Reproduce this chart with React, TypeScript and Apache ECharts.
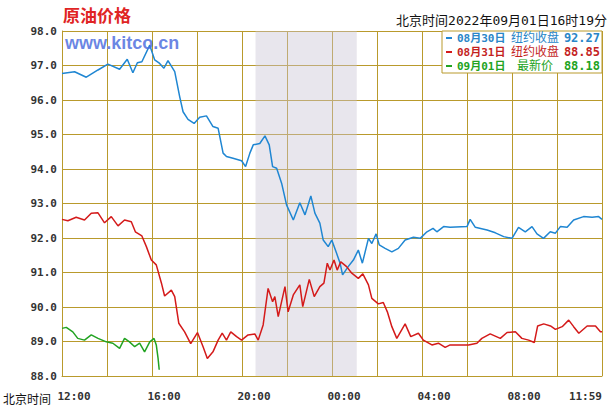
import React, { useEffect, useRef } from "react";
import * as echarts from "echarts";

// ---- data (hours after 12:00 Beijing time, price) ----
const blueHours = [0, 0.56, 1.08, 1.6, 2.04, 2.56, 2.9, 3.15, 3.35, 3.55, 3.9, 4.12, 4.34, 4.53, 4.71, 5.01, 5.23, 5.38, 5.6, 5.87, 6.12, 6.42, 6.71, 6.94, 7.16, 7.31, 7.6, 7.98, 8.16, 8.35, 8.5, 8.79, 9.02, 9.21, 9.36, 9.54, 9.76, 9.98, 10.28, 10.57, 10.8, 11.06, 11.24, 11.46, 11.61, 11.83, 11.99, 12.18, 12.36, 12.47, 12.72, 12.95, 13.17, 13.35, 13.62, 13.77, 13.96, 14.1, 14.36, 14.66, 14.95, 15.25, 15.62, 15.92, 16.22, 16.49, 16.66, 16.96, 17.25, 18.0, 18.14, 18.37, 18.89, 19.26, 19.63, 20.0, 20.29, 20.59, 20.89, 21.11, 21.4, 21.7, 21.93, 22.15, 22.45, 22.74, 23.18, 23.56, 23.85, 24];
const blueValues = [96.77, 96.82, 96.66, 96.87, 97.04, 96.89, 97.18, 96.79, 97.08, 97.11, 97.59, 97.16, 97.06, 96.92, 97.14, 96.82, 96.1, 95.66, 95.44, 95.32, 95.5, 95.54, 95.23, 95.18, 94.46, 94.36, 94.31, 94.24, 94.07, 94.46, 94.7, 94.74, 94.96, 94.7, 94.07, 94.02, 93.59, 92.96, 92.52, 93.02, 92.67, 93.22, 92.72, 92.43, 91.94, 91.75, 91.94, 91.6, 91.27, 90.93, 91.17, 91.36, 91.65, 91.27, 91.99, 91.84, 92.12, 91.8, 91.7, 91.6, 91.7, 91.94, 92.02, 91.99, 92.18, 92.28, 92.18, 92.33, 92.31, 92.33, 92.54, 92.31, 92.23, 92.15, 92.04, 91.99, 92.31, 92.18, 92.33, 92.12, 91.99, 92.18, 92.14, 92.33, 92.31, 92.52, 92.62, 92.6, 92.62, 92.54];

const redHours = [0, 0.26, 0.63, 1.0, 1.3, 1.6, 1.89, 2.19, 2.49, 2.78, 3.08, 3.26, 3.55, 3.75, 3.97, 4.19, 4.42, 4.56, 4.86, 5.01, 5.19, 5.45, 5.72, 6.02, 6.27, 6.46, 6.71, 6.94, 7.12, 7.31, 7.5, 7.76, 7.98, 8.27, 8.57, 8.72, 8.94, 9.16, 9.36, 9.46, 9.61, 9.91, 10.05, 10.28, 10.57, 10.7, 10.99, 11.21, 11.46, 11.64, 11.79, 11.91, 12.09, 12.23, 12.39, 12.65, 12.88, 13.17, 13.37, 13.62, 13.77, 14.06, 14.28, 14.46, 14.66, 14.88, 15.25, 15.5, 15.84, 16.06, 16.44, 16.73, 17.03, 17.25, 18.07, 18.44, 18.66, 19.03, 19.48, 19.78, 20.15, 20.44, 20.74, 20.99, 21.14, 21.41, 21.71, 21.93, 22.23, 22.52, 22.74, 22.97, 23.34, 23.71, 23.93, 24];
const redValues = [92.54, 92.5, 92.6, 92.52, 92.72, 92.73, 92.44, 92.62, 92.35, 92.52, 92.47, 92.18, 92.06, 91.75, 91.36, 91.22, 90.69, 90.32, 90.49, 90.3, 89.53, 89.28, 88.94, 89.26, 88.85, 88.51, 88.7, 89.04, 89.24, 89.04, 89.28, 89.14, 89.04, 89.19, 89.22, 89.04, 89.48, 90.54, 90.15, 90.3, 89.72, 90.59, 89.86, 90.35, 90.64, 90.01, 90.8, 90.3, 90.59, 90.69, 91.27, 91.07, 91.36, 91.07, 91.31, 91.17, 90.98, 90.83, 90.96, 90.64, 90.25, 90.09, 90.13, 89.86, 89.43, 89.09, 89.51, 89.14, 89.24, 89.04, 88.9, 88.95, 88.83, 88.9, 88.9, 88.95, 89.09, 89.22, 89.09, 89.26, 89.28, 89.09, 89.04, 88.97, 89.45, 89.51, 89.45, 89.35, 89.43, 89.62, 89.43, 89.24, 89.45, 89.45, 89.28, 89.28];

const greenHours = [0, 0.19, 0.48, 0.7, 1.0, 1.3, 1.6, 1.97, 2.26, 2.56, 2.78, 3.0, 3.23, 3.45, 3.67, 3.9, 4.09, 4.19, 4.27, 4.32];
const greenValues = [89.38, 89.41, 89.28, 89.09, 89.04, 89.19, 89.09, 88.99, 88.95, 88.8, 89.09, 88.99, 88.85, 88.95, 88.7, 88.99, 89.09, 88.9, 88.51, 88.18];

const seriesDates = ["08月30日", "08月31日", "09月01日"];
const seriesLabels = ["纽约收盘", "纽约收盘", "最新价"];
const seriesLastValues = ["92.27", "88.85", "88.18"];
const seriesColors = ["#1f86d2", "#d41a1a", "#22a322"];
const legendTextColors = ["#2a86c8", "#c41f1f", "#22a322"];

const xTickLabels: Record<number, string> = { 0: "12:00", 4: "16:00", 8: "20:00", 12: "00:00", 16: "04:00", 20: "08:00", 24: "11:59" };
const shadeStart = 8.6;
const shadeEnd = 13.1;

const titleText = "原油价格";
const timeStamp = "北京时间2022年09月01日16时19分";
const watermark = "www.kitco.cn";
const xAxisCaption = "北京时间";

const zip = (xs: number[], ys: number[]) => xs.map((x, i) => [x, ys[i]]);

const GOLD = "#b99a2c";
const MONO = "DejaVu Sans Mono, Noto Sans CJK SC, monospace";

export default function App() {
  const ref = useRef<HTMLDivElement>(null);
  useEffect(() => {
    document.body.style.margin = "0";
    const chart = echarts.init(ref.current!, undefined, { renderer: "svg" });
    const data = [zip(blueHours, blueValues), zip(redHours, redValues), zip(greenHours, greenValues)];
    chart.setOption({
      animation: false,
      backgroundColor: "#ffffff",
      grid: { left: 62, right: 11, top: 31, bottom: 34, containLabel: false },
      xAxis: {
        type: "value",
        min: 0,
        max: 24,
        interval: 2,
        axisLine: { lineStyle: { color: GOLD, width: 1 } },
        axisTick: { show: false },
        splitLine: { show: true, lineStyle: { color: GOLD, width: 1 } },
        axisLabel: {
          margin: 15,
          color: "#333",
          fontFamily: MONO,
          fontWeight: "bold",
          fontSize: 11,
          padding: [0, 0, 0, 24],
          alignMaxLabel: "right",
          formatter: (v: number) => xTickLabels[v] ?? "",
        },
      },
      yAxis: {
        type: "value",
        min: 88,
        max: 98,
        interval: 1,
        axisLine: { show: true, lineStyle: { color: GOLD, width: 1 } },
        axisTick: { show: false },
        splitLine: { show: true, lineStyle: { color: GOLD, width: 1 } },
        axisLabel: {
          margin: 5,
          color: "#333",
          fontFamily: MONO,
          fontWeight: "bold",
          fontSize: 11,
          formatter: (v: number) => v.toFixed(1),
        },
      },
      legend: {
        orient: "vertical",
        right: 11,
        top: 31,
        icon: "rect",
        itemWidth: 6,
        itemHeight: 2,
        itemGap: 2,
        padding: [1, 2, 1, 4],
        backgroundColor: "#ffffff",
        borderColor: GOLD,
        borderWidth: 1,
        borderRadius: 0,
        data: seriesDates.map((d, i) => ({ name: d, textStyle: { color: legendTextColors[i] } })),
        formatter: (name: string) => {
          const i = seriesDates.indexOf(name);
          return `{d|${name}}{l|${seriesLabels[i]}}{g| }{v|${seriesLastValues[i]}}`;
        },
        textStyle: {
          fontSize: 12,
          fontFamily: MONO,
          lineHeight: 12,
          rich: {
            d: { width: 54, fontFamily: MONO, fontWeight: "bold", fontSize: 11, lineHeight: 12 },
            l: { width: 48, align: "right", fontFamily: MONO, fontSize: 12, lineHeight: 12 },
            g: { width: 4, fontSize: 12, lineHeight: 12 },
            v: { width: 37, align: "right", fontFamily: MONO, fontWeight: "bold", fontSize: 12, lineHeight: 12 },
          },
        },
      },
      graphic: [
        { type: "text", left: 63, top: 6, style: { text: titleText, fill: "#e02424", font: "bold 17px 'Noto Sans CJK SC'" } },
        { type: "text", right: 6, top: 14, style: { text: timeStamp, fill: "#111", font: "13px " + MONO } },
        { type: "text", left: 65, top: 34, z: 10, style: { text: watermark, fill: "rgba(80,112,222,0.85)", font: "bold 18px 'Liberation Sans'" } },
        { type: "text", left: 3, top: 392, style: { text: xAxisCaption, fill: "#111", font: "12px 'Noto Sans CJK SC'" } },
      ],
      series: data.map((d, i) => ({
        type: "line",
        name: seriesDates[i],
        data: d,
        showSymbol: false,
        symbol: "none",
        lineStyle: { color: seriesColors[i], width: 1.5 },
        itemStyle: { color: seriesColors[i] },
        z: 3,
        markArea:
          i === 0
            ? {
                silent: true,
                itemStyle: { color: "rgba(200,195,212,0.42)" },
                data: [[{ xAxis: shadeStart }, { xAxis: shadeEnd }]],
              }
            : undefined,
      })),
    });
    return () => chart.dispose();
  }, []);
  return <div ref={ref} style={{ position: "fixed", left: 0, top: 0, width: 613, height: 410 }} />;
}
